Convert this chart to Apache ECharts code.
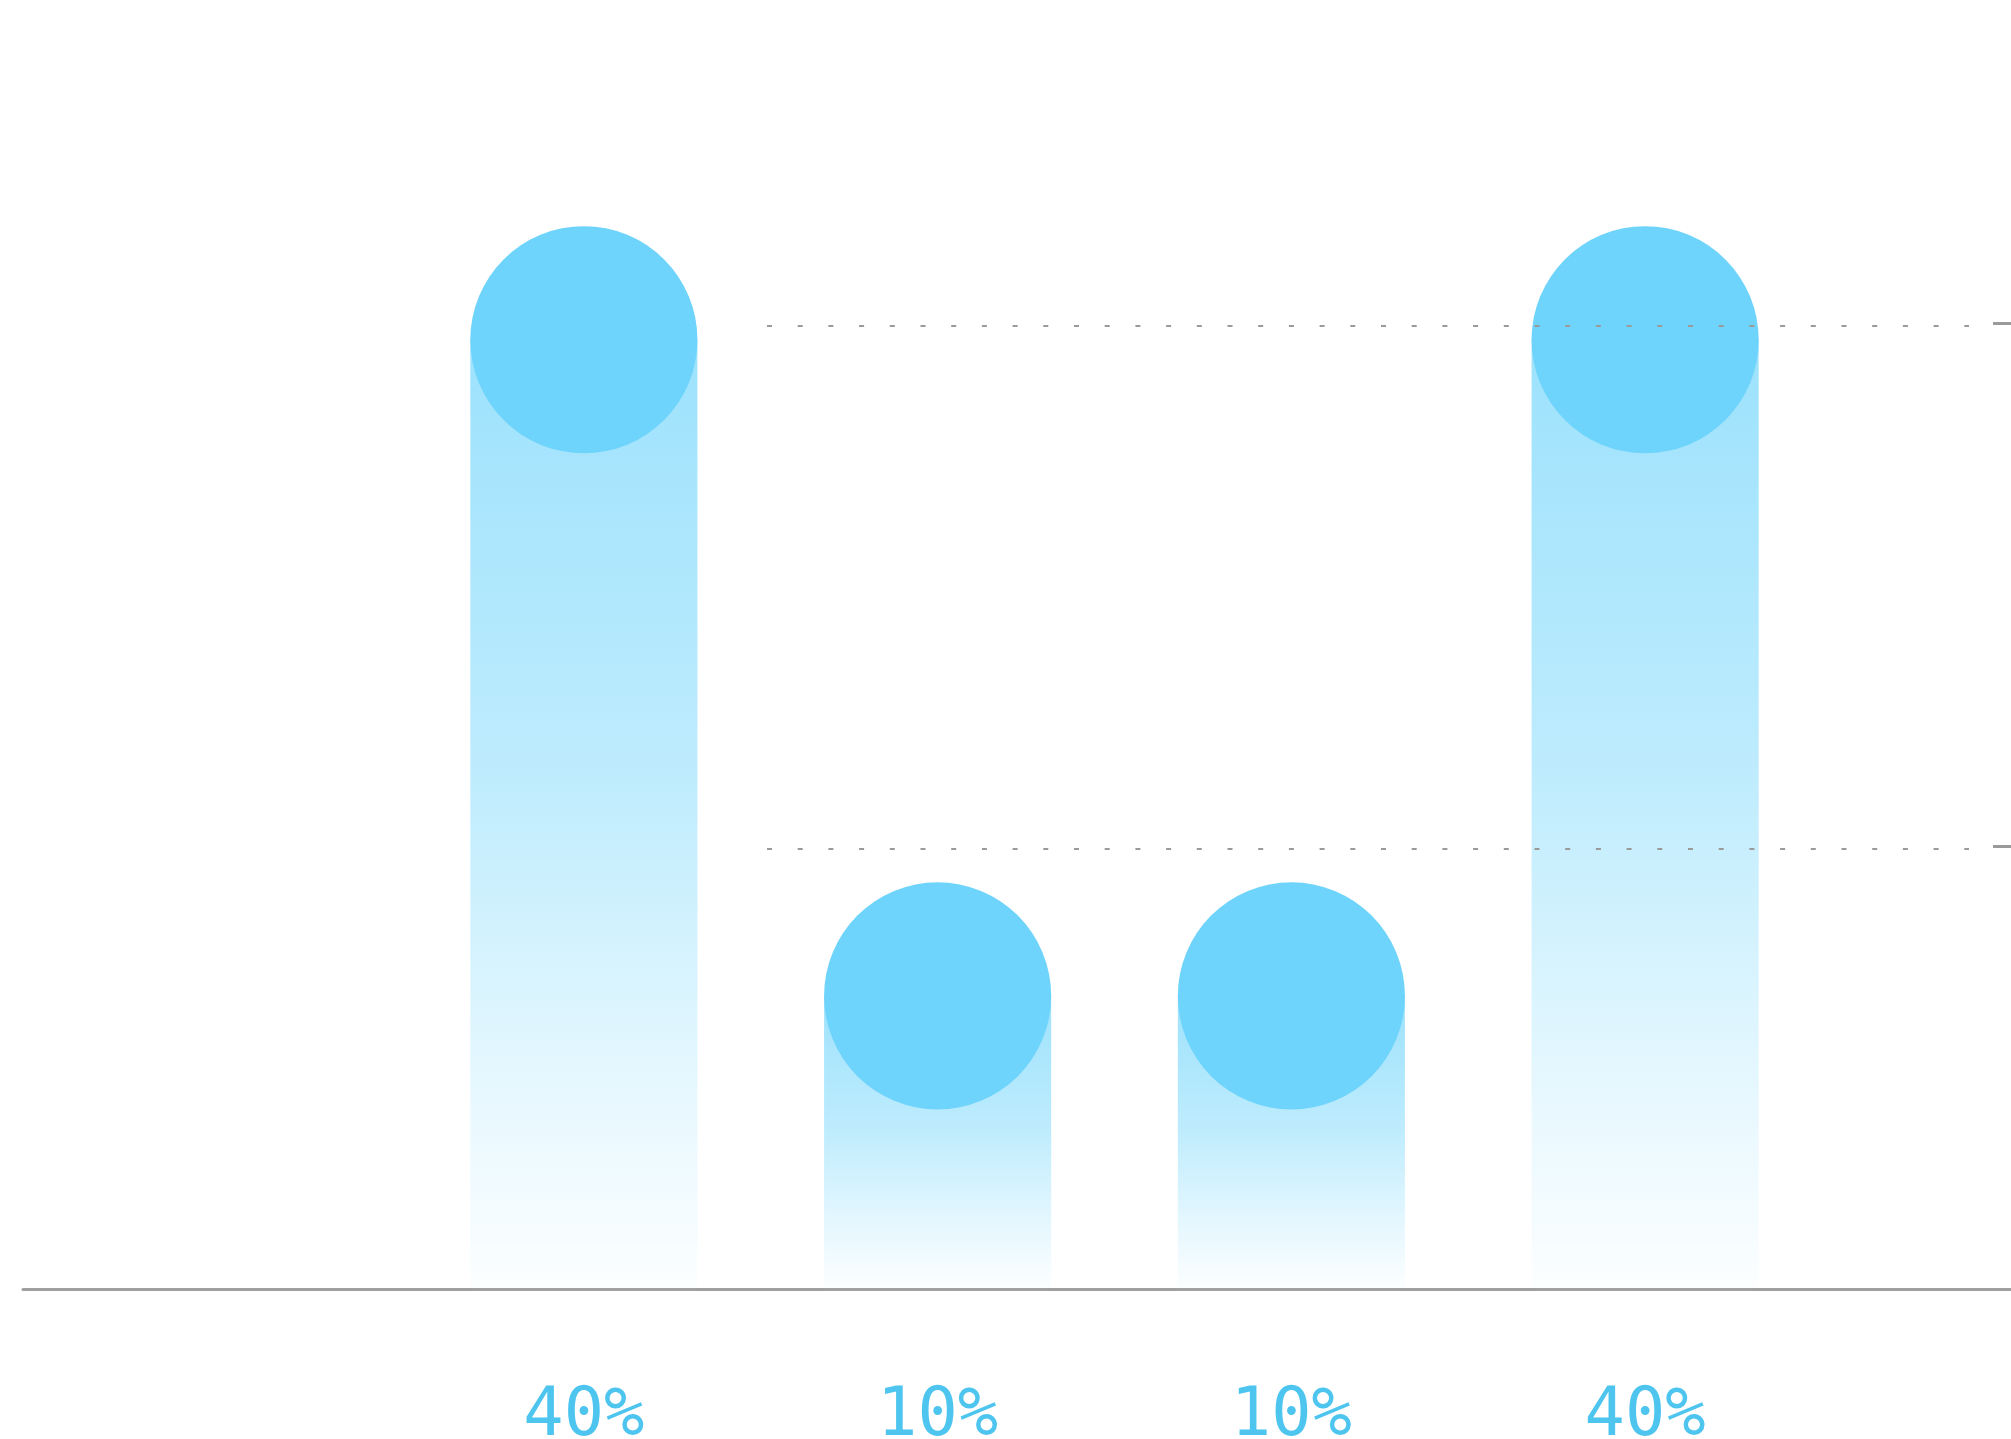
<!DOCTYPE html>
<html>
<head>
<meta charset="utf-8">
<script src="https://cdn.jsdelivr.net/npm/echarts@6/dist/echarts.min.js"></script>
<style>
  html, body { margin: 0; padding: 0; background: #fff; }
  #chart { width: 2011px; height: 1439px; }
</style>
</head>
<body>
<div id="chart"></div>
<script>
// data
const categories = ['1', '2', '3', '4']
const shares = [40, 10, 10, 40]
const shareLabels = shares.map(v => v + '%')
// the two dotted reference levels (unlabelled in the picture)
const refLevels = [0, 1]

// bar value axis: bars start at the baseline, a little under zero
const yMin = -3.4
const yMax = 50

const barFill = new echarts.graphic.LinearGradient(0, 0, 0, 1, [
  {offset: 0, color: 'rgba(110, 212, 251, 0.68)'},
  {offset: 0.45, color: 'rgba(110, 212, 251, 0.45)'},
  {offset: 0.8, color: 'rgba(110, 212, 251, 0.16)'},
  {offset: 1, color: 'rgba(110, 212, 251, 0.02)'},
])

function renderPill (params, api) {
  const i = api.value(0)
  const top = api.coord([i, api.value(1)])
  const base = api.coord([i, yMin])
  const w = api.size([1, 0])[0] * 0.642
  const r = w / 2
  return {
    type: 'group',
    children: [
      {
        type: 'rect',
        shape: {x: top[0] - r, y: top[1], width: w, height: base[1] - top[1]},
        style: {fill: barFill},
      },
      {
        type: 'circle',
        shape: {cx: top[0], cy: top[1], r: r},
        style: {fill: '#6fd4fb'},
      },
      {
        type: 'text',
        style: {
          text: shareLabels[i],
          x: top[0],
          y: base[1] + 129,
          align: 'center',
          verticalAlign: 'middle',
          fontSize: 67,
          fontFamily: '"DejaVu Sans Mono", monospace',
          fill: '#4dc5ef',
        },
      },
    ],
  }
}

const chart = echarts.init(document.getElementById('chart'))
chart.setOption({
  animation: false,
  backgroundColor: '#fff',
  grid: [
    // bars
    {left: 407, right: 189, top: 121, bottom: 150},
    // full width baseline
    {left: 23, right: 0, top: 1200, bottom: 150},
    // dotted reference lines
    {left: 767, right: 42, top: 326, bottom: 590},
    // short ticks at the right edge
    {left: 1993, right: 0, top: 323, bottom: 593},
  ],
  xAxis: [
    {
      gridIndex: 0,
      type: 'category',
      data: categories,
      boundaryGap: true,
      axisLine: {show: false},
      axisTick: {show: false},
      axisLabel: {show: false},
    },
    {
      gridIndex: 1,
      type: 'value',
      min: 0,
      max: 1,
      axisLine: {show: true, lineStyle: {color: '#a0a0a0', width: 3}},
      axisTick: {show: false},
      axisLabel: {show: false},
      splitLine: {show: false},
    },
    {gridIndex: 2, type: 'value', show: false, min: 0, max: 1},
    {gridIndex: 3, type: 'value', show: false, min: 0, max: 1},
  ],
  yAxis: [
    {gridIndex: 0, type: 'value', min: yMin, max: yMax, show: false},
    {gridIndex: 1, type: 'value', show: false},
    {
      gridIndex: 2,
      type: 'value',
      z: 6,
      min: refLevels[0],
      max: refLevels[refLevels.length - 1],
      interval: 1,
      axisLine: {show: false},
      axisTick: {show: false},
      axisLabel: {show: false},
      splitLine: {
        show: true,
        lineStyle: {color: '#9a9a9a', width: 2, type: [5, 25.7]},
      },
    },
    {
      gridIndex: 3,
      type: 'value',
      z: 6,
      min: refLevels[0],
      max: refLevels[refLevels.length - 1],
      interval: 1,
      axisLine: {show: false},
      axisTick: {show: true, inside: true, length: 30, lineStyle: {color: '#9a9a9a', width: 3}},
      axisLabel: {show: false},
      splitLine: {show: false},
    },
  ],
  series: [
    {
      type: 'custom',
      xAxisIndex: 0,
      yAxisIndex: 0,
      renderItem: renderPill,
      data: shares.map((v, i) => [i, v]),
      z: 2,
    },
  ],
})
</script>
</body>
</html>
